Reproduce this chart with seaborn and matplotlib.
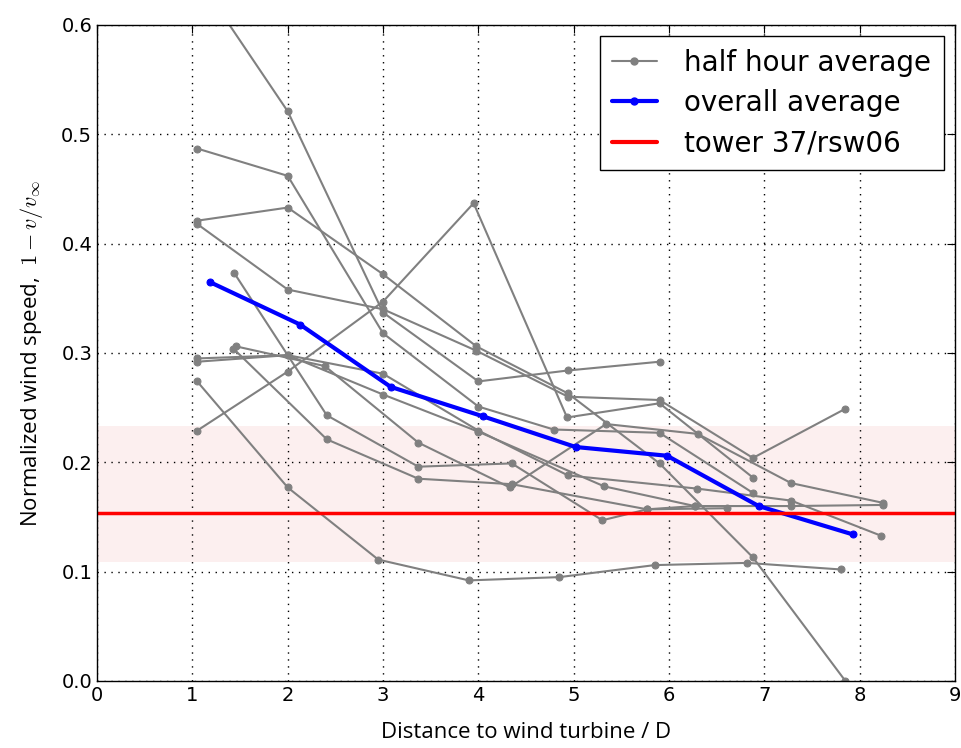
import numpy as np
import pandas as pd
import matplotlib
matplotlib.use("Agg")
import matplotlib.pyplot as plt
import seaborn as sns
from matplotlib.lines import Line2D

# half hour averages: (distance / D, velocity deficit)
run_01 = [(1.08, 0.64), (2.0, 0.521), (3.0, 0.337), (4.0, 0.274), (4.94, 0.284), (5.9, 0.292)]
run_02 = [(1.05, 0.487), (2.0, 0.462), (3.0, 0.318), (4.0, 0.251), (4.79, 0.230), (5.9, 0.227), (6.88, 0.172)]
run_03 = [(1.05, 0.421), (2.0, 0.433), (3.0, 0.372), (3.98, 0.306), (4.94, 0.263), (5.9, 0.199), (6.88, 0.113), (7.85, 0.0)]
run_04 = [(1.05, 0.418), (2.0, 0.358), (3.0, 0.340), (3.98, 0.302), (4.94, 0.260), (5.9, 0.257), (6.88, 0.204), (7.85, 0.249)]
run_05 = [(1.05, 0.229), (2.0, 0.283), (3.0, 0.347), (3.95, 0.437), (4.93, 0.241), (5.9, 0.254), (6.88, 0.186)]
run_06 = [(1.05, 0.295), (2.0, 0.298), (3.0, 0.281), (4.0, 0.229), (4.94, 0.188), (6.29, 0.176), (7.28, 0.165), (8.22, 0.133)]
run_07 = [(1.05, 0.292), (2.0, 0.298), (3.0, 0.262), (4.0, 0.228), (5.32, 0.178), (6.27, 0.160), (7.28, 0.160), (8.24, 0.161)]
run_08 = [(1.05, 0.274), (2.0, 0.177), (2.95, 0.111), (3.9, 0.092), (4.85, 0.095), (5.85, 0.106), (6.82, 0.108), (7.8, 0.102)]
run_09 = [(1.44, 0.373), (2.41, 0.243), (3.37, 0.196), (4.35, 0.199), (5.3, 0.147), (5.77, 0.157), (6.61, 0.158)]
run_10 = [(1.46, 0.306), (2.39, 0.288), (3.37, 0.218), (4.33, 0.177), (5.34, 0.235), (6.3, 0.226), (7.28, 0.181), (8.24, 0.163)]
run_11 = [(1.43, 0.304), (2.41, 0.221), (3.37, 0.185), (4.35, 0.180), (5.77, 0.157), (6.27, 0.160)]
runs = [run_01, run_02, run_03, run_04, run_05, run_06, run_07, run_08, run_09, run_10, run_11]

avg_dist = [1.18, 2.13, 3.08, 4.05, 5.02, 5.98, 6.94, 7.93]
avg_deficit = [0.365, 0.326, 0.269, 0.242, 0.214, 0.206, 0.160, 0.134]

tower_value = 0.154
tower_low, tower_high = 0.109, 0.233

rows = []
for i, run in enumerate(runs):
    for d, v in run:
        rows.append({"run": i, "dist": d, "deficit": v})
df = pd.DataFrame(rows)
avg_df = pd.DataFrame({"dist": avg_dist, "deficit": avg_deficit})

sns.set_style("white")
plt.rcParams['font.family'] = ['DejaVu Sans']
plt.rcParams['mathtext.fontset'] = 'cm'
plt.rcParams['text.color'] = 'black'
plt.rcParams['axes.labelcolor'] = 'black'

fig = plt.figure(figsize=(9.61, 7.48), dpi=100)
ax = fig.add_axes([0.101, 0.0896, 0.8928, 0.877])

ax.axhspan(tower_low, tower_high, color='#fcefef', zorder=0, lw=0)

sns.lineplot(data=df, x="dist", y="deficit", units="run", estimator=None, sort=False,
             color='gray', marker='o', markersize=5, markeredgecolor='gray',
             linewidth=1.5, ax=ax, legend=False)
sns.lineplot(data=avg_df, x="dist", y="deficit", sort=False, color='blue',
             marker='o', markersize=5, markeredgecolor='blue', linewidth=3, ax=ax, legend=False)
ax.axhline(tower_value, color='red', linewidth=2.5)

ax.set_xlim(0, 9)
ax.set_ylim(0, 0.6)
ax.set_xticks(range(10))
ax.set_yticks(np.arange(0, 0.61, 0.1))
ax.set_yticklabels([f"{t:.1f}" for t in np.arange(0, 0.61, 0.1)])
ax.tick_params(direction='in', top=True, right=True, length=6, labelsize=14, colors='black')
ax.grid(True, linestyle=(0, (1, 4)), color='black', linewidth=1)
for s in ax.spines.values():
    s.set_color('black')
    s.set_linewidth(1)

ax.set_xlabel("Distance to wind turbine / D", fontsize=16, labelpad=12,
              family=['Open Sans', 'DejaVu Sans'])
ax.set_ylabel(r"Normalized wind speed,  $1-v/v_\infty$", fontsize=16, labelpad=12,
              family=['Open Sans', 'DejaVu Sans'])

handles = [
    Line2D([], [], color='gray', marker='o', markersize=5, linewidth=1.5),
    Line2D([], [], color='blue', marker='o', markersize=5, linewidth=3),
    Line2D([], [], color='red', linewidth=3),
]
leg = ax.legend(handles, ["half hour average", "overall average", "tower 37/rsw06"],
                loc='upper right', fontsize=20, frameon=True, fancybox=False,
                edgecolor='black', labelspacing=0.45, handlelength=1.6,
                borderpad=0.45, handletextpad=1.0, borderaxespad=0.4)
leg.get_frame().set_linewidth(1)
leg.get_frame().set_alpha(1)

fig.savefig("out.png", dpi=100)
